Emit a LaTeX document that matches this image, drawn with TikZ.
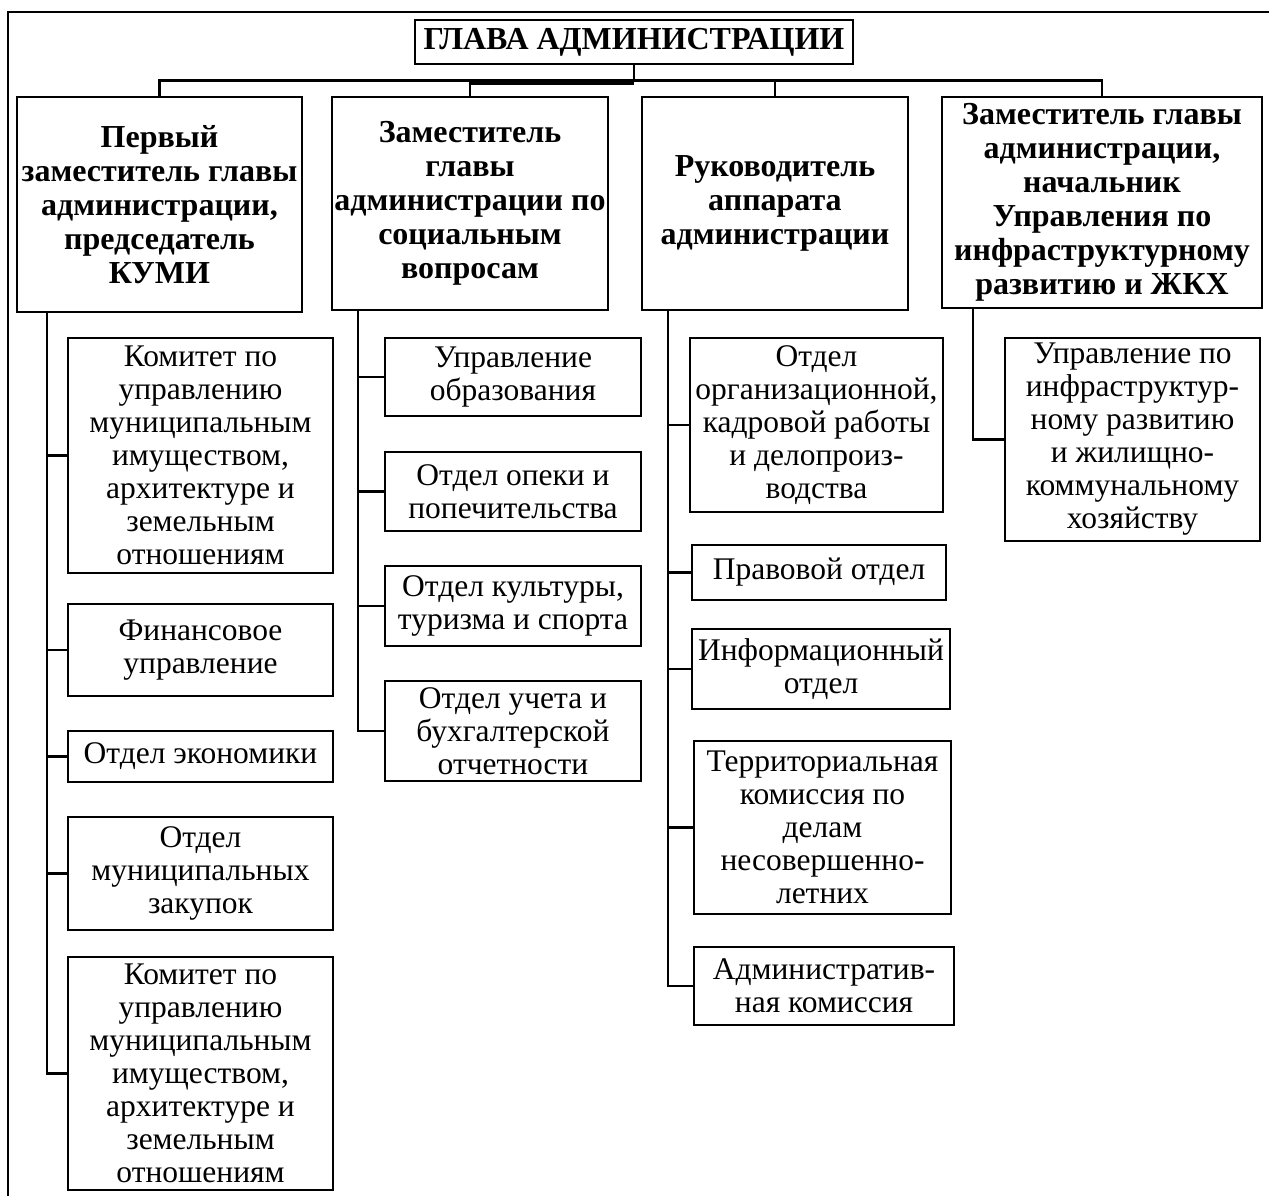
\documentclass[tikz,border=0pt]{standalone}
\usepackage{fontspec}
\setmainfont{Liberation Serif}
\usetikzlibrary{calc}
\begin{document}
\begin{tikzpicture}[x=1pt,y=-1pt,
  frame/.style={line width=2pt},
  bx/.style={draw,line width=2.6pt,inner sep=0pt},
  txt/.style={align=center,inner sep=0pt,font=\fontsize{31.5}{33}\selectfont},
  htxt/.style={txt,font=\fontsize{32}{34}\selectfont\bfseries},
  con/.style={line width=2.6pt}]
\useasboundingbox (0,0) rectangle (1269,1196);
\draw[frame] (8,1200) -- (8,12) -- (1275,12);
\newcommand\mybox[7]{\node[bx,minimum width={#4-#2},minimum height={#5-#3}] (#1) at ({(#2+#4)/2},{(#3+#5)/2}) {};
  \node[#7] at (#1.center) {#6};}
% top
\mybox{top}{415}{20}{853}{64}{ГЛАВА АДМИНИСТРАЦИИ}{htxt}
% heads
\mybox{b1}{17}{97}{302}{312}{Первый\\заместитель главы\\администрации,\\председатель\\КУМИ}{htxt}
\mybox{b2}{332}{97}{608}{310}{Заместитель\\главы\\администрации по\\социальным\\вопросам}{htxt}
\mybox{b3}{642}{97}{908}{310}{Руководитель\\аппарата\\администрации}{htxt}
\mybox{b4}{942}{97}{1262}{308}{Заместитель главы\\администрации,\\начальник\\Управления по\\инфраструктурному\\развитию и ЖКХ}{htxt}
% column 1
\mybox{c11}{68}{338}{333}{573}{Комитет по\\управлению\\муниципальным\\имуществом,\\архитектуре и\\земельным\\отношениям}{txt}
\mybox{c12}{68}{604}{333}{696}{Финансовое\\управление}{txt}
\mybox{c13}{68}{731}{333}{782}{Отдел экономики}{txt}
\mybox{c14}{68}{817}{333}{930}{Отдел\\муниципальных\\закупок}{txt}
\mybox{c15}{68}{957}{333}{1190}{Комитет по\\управлению\\муниципальным\\имуществом,\\архитектуре и\\земельным\\отношениям}{txt}
% column 2
\mybox{c21}{385}{338}{641}{416}{Управление\\образования}{txt}
\mybox{c22}{385}{452}{641}{531}{Отдел опеки и\\попечительства}{txt}
\mybox{c23}{385}{566}{641}{646}{Отдел культуры,\\туризма и спорта}{txt}
\mybox{c24}{385}{681}{641}{781}{Отдел учета и\\бухгалтерской\\отчетности}{txt}
% column 3
\mybox{c31}{690}{338}{943}{512}{Отдел\\организационной,\\кадровой работы\\и делопроиз-\\водства}{txt}
\mybox{c32}{692}{545}{946}{600}{Правовой отдел}{txt}
\mybox{c33}{692}{629}{950}{709}{Информационный\\отдел}{txt}
\mybox{c34}{694}{741}{951}{914}{Территориальная\\комиссия по\\делам\\несовершенно-\\летних}{txt}
\mybox{c35}{694}{947}{954}{1025}{Административ-\\ная комиссия}{txt}
% column 4
\mybox{c41}{1005}{338}{1260}{541}{Управление по\\инфраструктур-\\ному развитию\\и жилищно-\\коммунальному\\хозяйству}{txt}
% top connectors
\coordinate (h) at ($(top.south)+(0,15)$);
\draw[con] (top.south) -- (h);
\draw[con] (b1.north) |- (h);
\draw[con] (b4.north) |- (h);
\draw[con] (b2.north) -- (b2.north |- h);
\draw[con] (b3.north) -- (b3.north |- h);
\draw[con] ($(b2.north |- h)+(0,3)$) -- ($(h)+(0,3)$);
% trunks
\coordinate (t1) at (47,312);
\coordinate (t2) at (358,310);
\coordinate (t3) at (668,310);
\coordinate (t4) at (973,308);
\draw[con] (t1) |- (c15.west);
\foreach \c in {c11,c12,c13,c14} \draw[con] (t1 |- \c.west) -- (\c.west);
\draw[con] (t2) |- (c24.west);
\foreach \c in {c21,c22,c23} \draw[con] (t2 |- \c.west) -- (\c.west);
\draw[con] (t3) |- (c35.west);
\foreach \c in {c31,c32,c33,c34} \draw[con] (t3 |- \c.west) -- (\c.west);
\draw[con] (t4) |- (c41.west);
\end{tikzpicture}
\end{document}
